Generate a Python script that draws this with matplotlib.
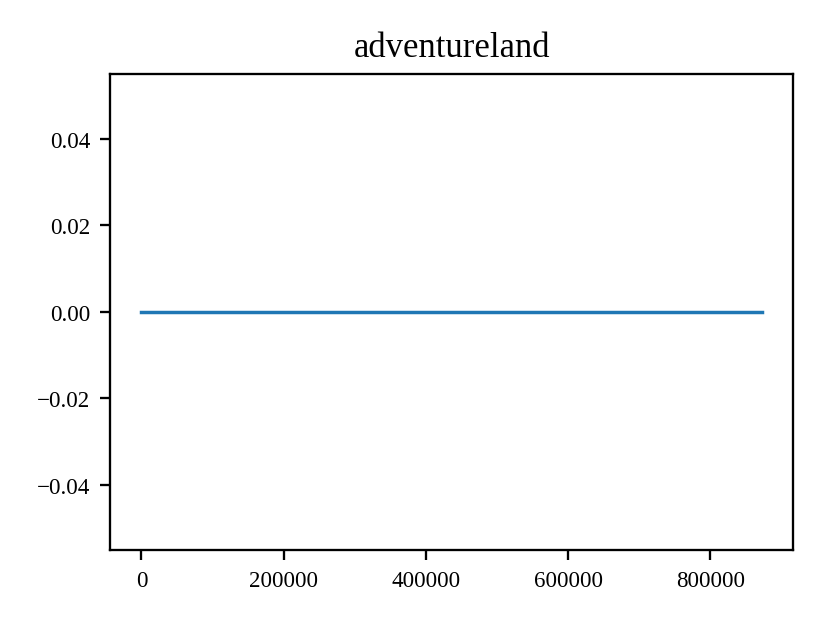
import matplotlib
matplotlib.use("Agg")
import matplotlib.pyplot as plt

# training steps and episode reward
steps = [0, 100000, 200000, 300000, 400000, 500000, 600000, 700000, 800000, 872000]
rewards = [0.0, 0.0, 0.0, 0.0, 0.0, 0.0, 0.0, 0.0, 0.0, 0.0]

plt.rcParams["font.family"] = ["Liberation Serif", "DejaVu Serif"]
plt.rcParams["mathtext.fontset"] = "stix"

fig = plt.figure(figsize=(4, 3.0024), dpi=207.5)
ax = fig.add_axes([0.133, 0.116, 0.822, 0.764])
ax.plot(steps, rewards, color="#1f77b4", linewidth=1.2)
ax.set_title("adventureland", fontsize=12)
ax.tick_params(labelsize=8)

fig.savefig("out.png", dpi=207.5)
